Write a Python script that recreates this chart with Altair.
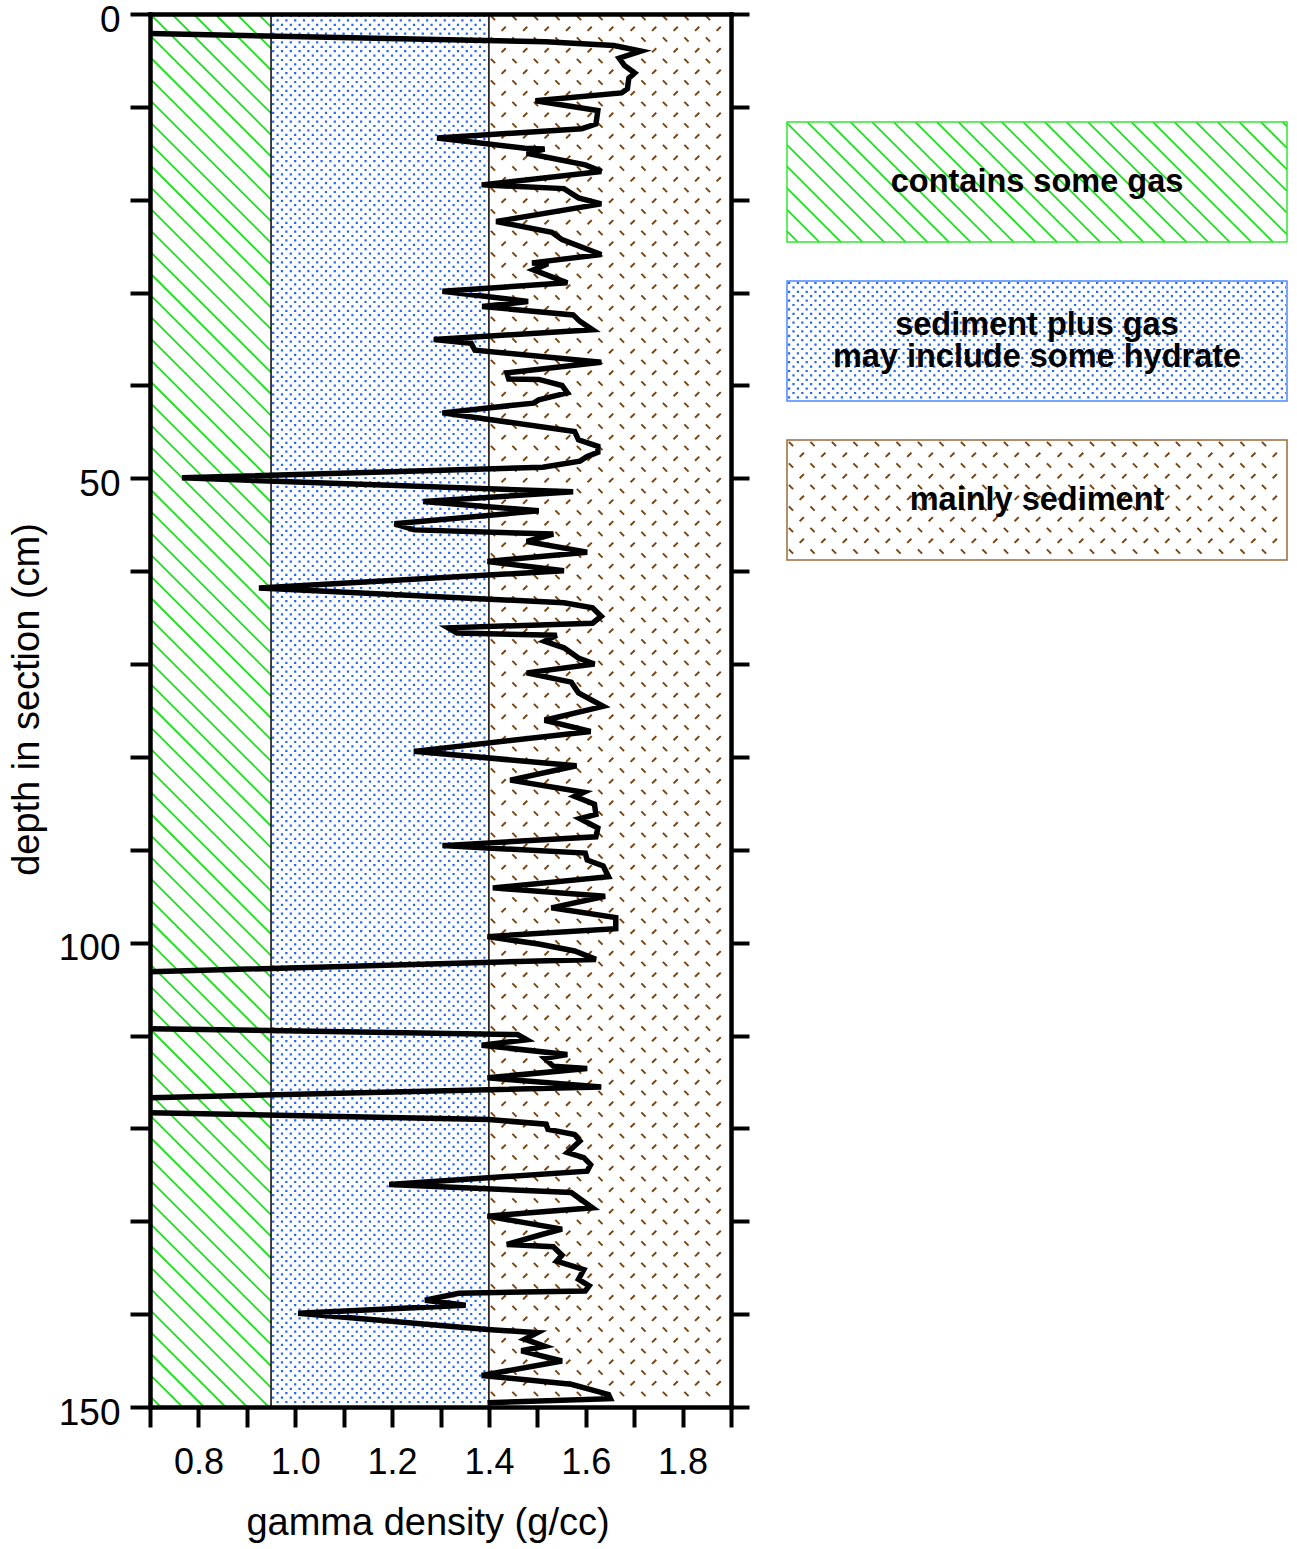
import altair as alt
import pandas as pd

# Gamma density log (g/cc) against depth in section (cm), in drawing order.
density = [
    0.69, 1.518, 1.658, 1.714, 1.669, 1.680, 1.701, 1.689, 1.686, 1.674,
    1.496, 1.625, 1.621, 1.592, 1.293, 1.474, 1.515, 1.478, 1.599, 1.632,
    1.385, 1.555, 1.585, 1.632, 1.415, 1.530, 1.551, 1.632, 1.489, 1.522,
    1.492, 1.562, 1.304, 1.481, 1.386, 1.574, 1.588, 1.614, 1.286, 1.363,
    1.371, 1.632, 1.437, 1.441, 1.503, 1.551, 1.562, 1.503, 1.492, 1.304,
    1.577, 1.585, 1.625, 1.625, 1.603, 1.588, 1.511, 0.766, 1.574, 1.264,
    1.503, 1.205, 1.246, 1.533, 1.478, 1.603, 1.397, 1.555, 0.925, 1.555,
    1.614, 1.632, 1.614, 1.316, 1.334, 1.540, 1.515, 1.555, 1.585, 1.618,
    1.478, 1.570, 1.585, 1.636, 1.515, 1.610, 1.245, 1.581, 1.444, 1.596,
    1.577, 1.618, 1.621, 1.588, 1.625, 1.621, 1.304, 1.599, 1.603, 1.636,
    1.647, 1.408, 1.640, 1.529, 1.662, 1.662, 1.397, 1.503, 1.577, 1.621,
    0.69, 0.69, 1.459, 1.478, 1.385, 1.562, 1.515, 1.533, 1.603, 1.397,
    1.632, 0.69, 0.69, 1.400, 1.518, 1.522, 1.577, 1.588, 1.562, 1.596,
    1.610, 1.603, 1.194, 1.570, 1.614, 1.397, 1.551, 1.511, 1.437, 1.533,
    1.551, 1.540, 1.596, 1.585, 1.607, 1.599, 1.338, 1.268, 1.352, 1.006,
    1.397, 1.500, 1.474, 1.515, 1.467, 1.551, 1.385, 1.570, 1.647, 1.651,
    1.397,
]
depth = [
    2.1, 3.0, 3.4, 4.0, 4.75, 5.55, 6.35, 6.9, 8.05, 8.5,
    9.35, 10.4, 11.85, 12.35, 13.35, 14.45, 14.55, 15.0, 16.25, 16.95,
    18.4, 18.8, 19.8, 20.45, 22.35, 23.5, 24.3, 25.9, 26.8, 26.9,
    27.55, 28.95, 29.85, 30.95, 31.5, 32.4, 33.1, 34.0, 35.05, 35.45,
    36.2, 37.5, 38.65, 39.3, 39.35, 40.0, 40.8, 41.55, 41.9, 42.95,
    44.95, 45.85, 46.55, 47.2, 47.65, 48.15, 48.8, 49.95, 51.45, 52.5,
    53.5, 54.9, 55.55, 56.0, 56.8, 57.95, 58.95, 59.95, 61.8, 63.4,
    63.95, 64.85, 65.6, 66.1, 66.65, 66.9, 67.55, 68.25, 69.35, 70.0,
    70.95, 71.95, 73.1, 74.55, 76.05, 77.25, 79.4, 80.95, 82.5, 83.8,
    84.25, 85.1, 86.2, 86.65, 87.65, 88.6, 89.55, 90.35, 91.1, 91.75,
    92.9, 94.1, 95.0, 96.25, 97.3, 98.5, 99.35, 100.15, 100.9, 101.8,
    103.15, 109.25, 109.9, 110.45, 111.05, 112.05, 112.45, 113.3, 113.55, 114.55,
    115.55, 116.7, 118.3, 119.05, 119.55, 120.1, 120.65, 121.35, 122.6, 123.15,
    123.9, 124.6, 126.05, 126.9, 128.55, 129.45, 130.85, 131.4, 132.5, 132.75,
    133.65, 134.3, 135.2, 136.25, 136.95, 137.5, 137.75, 138.5, 139.05, 139.9,
    141.65, 142.0, 142.7, 143.45, 143.95, 145.05, 146.6, 147.55, 148.65, 149.1,
    149.55,
]

# Interpretation zones along the density axis
zone_label = ["contains some gas", "sediment plus gas\nmay include some hydrate", "mainly sediment"]
zone_lo = [0.70, 0.95, 1.40]
zone_hi = [0.95, 1.40, 1.90]
depth_range = [0, 150]
density_range = [0.7, 1.9]

x_ticks = [round(0.7 + 0.1 * i, 1) for i in range(13)]
y_ticks = list(range(0, 151, 10))

FONT = "Liberation Sans"
PLOT_W, PLOT_H = 581, 1393
PX_PER_UNIT = PLOT_W / (density_range[1] - density_range[0])
BOX_W, BOX_H = 500, 120

GREEN = "#1fe01f"
BLUE = "#2266ff"
BROWN = "#7a4410"


# ---- texture glyphs (pixel-unit symbol paths, centred on the area they fill) ----
def hatch_glyph(W, H, step):
    """Down-right diagonal hatch lines clipped to a W x H box."""
    out = []
    c = -H + step / 2
    while c < W:
        x0, x1 = max(0.0, c), min(W, H + c)
        if x1 > x0:
            out.append("M%.1f %.1fL%.1f %.1f" % (x0 - W / 2, x0 - c - H / 2,
                                                 x1 - W / 2, x1 - c - H / 2))
        c += step
    return "".join(out)


def dot_rows_glyph(W, H, row_step, stagger, inset=2.0):
    """Horizontal rows, dashed later into staggered dots."""
    out = []
    y, j = inset, 0
    while y < H - inset:
        x0 = 1.0 + (stagger if j % 2 else 0.0)
        out.append("M%.1f %.1fH%.1f" % (x0 - W / 2, y - H / 2, W / 2 - 1))
        y += row_step
        j += 1
    return "".join(out)


def dash_glyph(W, H, step, size):
    """Short dashes: '\\' on one row, '/' on the next, half a step apart."""
    out = []
    half = step / 2
    y, j = 4.0, 0
    while y < H - 3:
        x = 4.0 + (half if j % 2 else 0.0)
        while x < W - 3:
            a, b = x - W / 2 - size / 2, y - H / 2 - size / 2
            if j % 2:
                out.append("M%.1f %.1fl%.1f %.1f" % (a, b + size, size, -size))
            else:
                out.append("M%.1f %.1fl%.1f %.1f" % (a, b, size, size))
            x += step
        y += half
        j += 1
    return "".join(out)


def zone_textures(widths, H):
    return [
        dict(shape=hatch_glyph(widths[0], H, 21.6), color=GREEN, strokeWidth=1.8),
        dict(shape=dot_rows_glyph(widths[1], H, 4.4, 4.4), color=BLUE,
             strokeWidth=2.2, strokeDash=[2.2, 6.6]),
        dict(shape=dash_glyph(widths[2], H, 21.5, 4.2), color=BROWN, strokeWidth=2.0),
    ]


zones = pd.DataFrame({
    "k": [0, 1, 2],
    "zone": zone_label,
    "lo": zone_lo,
    "hi": zone_hi,
    "mid": [(l + h) / 2 for l, h in zip(zone_lo, zone_hi)],
    "top": [depth_range[0]] * 3,
    "bottom": [depth_range[1]] * 3,
    "dmid": [(depth_range[0] + depth_range[1]) / 2] * 3,
    "x0": [0.0] * 3,
    "x1": [1.0] * 3,
    "xm": [0.5] * 3,
})
log = pd.DataFrame({"density": density, "depth": depth, "seq": range(len(density))})

x_scale = alt.Scale(domain=density_range, nice=False, zero=False)
y_scale = alt.Scale(domain=depth_range, reverse=True, nice=False, zero=False)

x_axis = alt.Axis(
    values=x_ticks, format=".1f",
    labelExpr="(round(datum.value * 10) % 2 == 0 && datum.value > 0.75 && datum.value < 1.85) ? datum.label : ''",
    tickSize=20, tickWidth=4, tickColor="black",
    domainColor="black", domainWidth=4.5, domainCap="square", grid=False,
    labelFont=FONT, labelFontSize=36, labelColor="black", labelPadding=18,
    labelOverlap=False, labelFlush=False,
    title="gamma density (g/cc)", titleFont=FONT, titleFontSize=38,
    titleFontWeight="normal", titleColor="black", titlePadding=24,
    titleX=277.5, zindex=2,
)
y_axis = alt.Axis(
    values=y_ticks,
    labelExpr="datum.value % 50 == 0 ? datum.label : ''",
    tickSize=20, tickWidth=4, tickColor="black",
    domainColor="black", domainWidth=4.5, domainCap="square", grid=False,
    labelFont=FONT, labelFontSize=37, labelColor="black", labelPadding=10,
    labelOffset=6, labelOverlap=False, labelFlush=False,
    title="depth in section (cm)", titleFont=FONT, titleFontSize=38,
    titleFontWeight="normal", titleColor="black", titlePadding=12,
    titleY=685, zindex=2,
)
top_axis = alt.Axis(
    orient="top", ticks=False, labels=False, grid=False, title=None,
    domainColor="black", domainWidth=4.5, domainCap="square", zindex=2,
)
right_axis = alt.Axis(
    orient="right", values=y_ticks, labels=False, grid=False, title=None,
    tickSize=18, tickWidth=4, tickColor="black",
    domainColor="black", domainWidth=4.5, domainCap="square", zindex=2,
)

# ---- main log panel -------------------------------------------------------
band_w = [(h - l) * PX_PER_UNIT for l, h in zip(zone_lo, zone_hi)]
band_layers = []
for k, tex in enumerate(zone_textures(band_w, PLOT_H)):
    band_layers.append(
        alt.Chart(zones).transform_filter(alt.datum.k == k).mark_point(
            size=4, filled=False, opacity=1, **tex
        ).encode(
            x=alt.X("mid:Q", scale=x_scale, axis=x_axis),
            y=alt.Y("dmid:Q", scale=y_scale, axis=y_axis),
        )
    )

curve = alt.Chart(log).mark_line(color="black", strokeWidth=5.5, clip=True).encode(
    x=alt.X("density:Q", scale=x_scale, axis=x_axis),
    y=alt.Y("depth:Q", scale=y_scale, axis=y_axis),
    order=alt.Order("seq:Q"),
)

inner = alt.layer(*band_layers, curve)

edges = alt.Chart(zones).transform_filter(alt.datum.k > 0).mark_rule(
    color="black", strokeWidth=1.5
).encode(
    x=alt.X("lo:Q", scale=x_scale, axis=top_axis),
    y=alt.Y("top:Q", scale=y_scale, axis=right_axis),
    y2="bottom:Q",
)

main = alt.layer(inner, edges).resolve_axis(x="independent", y="independent").properties(
    width=PLOT_W, height=PLOT_H
)

# ---- zone key ---------------------------------------------------------------
key_y = alt.Scale(domain=zone_label, range=[108, 546], paddingInner=0.245, paddingOuter=0)
key_x = alt.Scale(domain=[0, 1], nice=False, zero=False)

key_layers = []
for k, tex in enumerate(zone_textures([BOX_W] * 3, BOX_H)):
    key_layers.append(
        alt.Chart(zones).transform_filter(alt.datum.k == k).mark_point(
            size=4, filled=False, opacity=1, **tex
        ).encode(
            x=alt.X("xm:Q", scale=key_x, axis=None),
            y=alt.Y("zone:N", scale=key_y, axis=None),
        )
    )

key_border = alt.Chart(zones).mark_rect(fillOpacity=0, strokeWidth=1.5).encode(
    x=alt.X("x0:Q", scale=key_x, axis=None),
    x2="x1:Q",
    y=alt.Y("zone:N", scale=key_y, axis=None),
    stroke=alt.Color("zone:N", scale=alt.Scale(domain=zone_label, range=["#33e633", "#4d88ff", "#9a6a3a"]), legend=None),
)

key_text_style = dict(
    font=FONT, fontSize=32.5, fontWeight="bold", color="black",
    lineBreak="\n", lineHeight=32, align="center", baseline="middle",
)
key_text_enc = dict(
    x=alt.X("xm:Q", scale=key_x, axis=None),
    y=alt.Y("zone:N", scale=key_y, axis=None),
    text="zone:N",
)
# single-line captions sit on the box centre; the two-line one is lifted by half a line
key_text_single = alt.Chart(zones).transform_filter(alt.datum.k != 1).mark_text(
    **key_text_style).encode(**key_text_enc)
key_text_double = alt.Chart(zones).transform_filter(alt.datum.k == 1).mark_text(
    dy=-16, **key_text_style).encode(**key_text_enc)

key = alt.layer(*key_layers, key_border, key_text_single, key_text_double).properties(
    width=BOX_W, height=PLOT_H
)

chart = alt.hconcat(main, key, spacing=30).properties(
    padding={"left": 7, "top": 0, "right": 0, "bottom": 0},
    background="white",
).configure_view(stroke="transparent")

chart.save("out.html", embed_options={"renderer": "svg", "actions": False})
